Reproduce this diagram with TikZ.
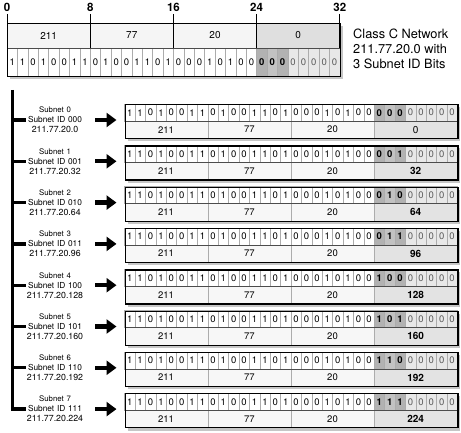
\documentclass[tikz,border=0pt]{standalone}
\usepackage{fontspec}
\setmainfont{TeX Gyre Heros}
\usetikzlibrary{arrows.meta, positioning}

\begin{document}
\begin{tikzpicture}[
    x=1pt, y=-1pt,
    cell/.style={draw=gray!65, line width=0.4pt},
    frame/.style={draw=black, line width=1.3pt, inner sep=0pt, anchor=north west},
    split/.style={draw=black!70, line width=0.6pt},
    shadow/.style={fill=gray!45},
    digit/.style={inner sep=0pt, font=\fontsize{9.5}{9.5}\selectfont},
    lbl/.style={align=center, text width=58pt, inner sep=0pt, font=\fontsize{8.3}{10}\selectfont},
    pointer/.style={draw=black, line width=4.2pt, line cap=butt, -{Triangle[length=10pt, width=14pt]}},
    branch/.style={line width=3.3pt},
    tick/.style={line width=1pt}
]
\useasboundingbox (0,0) rectangle (461,433);

% class C network on top
\fill[shadow] (10,26) rectangle (342.8,79.5);
\foreach \n/\v in {0/211,1/77,2/20} {
    \fill[gray!8] (7+83.2*\n,23) rectangle (90.2+83.2*\n,48);
    \node[digit, font=\fontsize{10}{10}\selectfont] (hdr\n) at (48.6+83.2*\n,35.5) {\v};
}
\fill[gray!25] (256.6,23) rectangle (339.8,48);
\node[digit, font=\fontsize{10}{10}\selectfont] (hdr3) at (298.2,35.5) {0};
\foreach \b [count=\i from 0] in {1,1,0,1,0,0,1,1,0,1,0,0,1,1,0,1,0,0,0,1,0,1,0,0} {
    \draw[cell, fill=white] (7+10.4*\i,48) rectangle ++(10.4,28);
    \node[digit] (top\i) at (12.2+10.4*\i,62) {\b};
}
\foreach \i in {24,25,26} {
    \pgfmathtruncatemacro\odd{mod(\i,2)}
    \ifnum\odd=1 \def\shade{gray!48}\else\def\shade{gray!60}\fi
    \draw[cell, fill=\shade] (7+10.4*\i,48) rectangle ++(10.4,28);
    \node[digit, font=\bfseries\fontsize{9.5}{9.5}\selectfont] (top\i) at (12.2+10.4*\i,62) {0};
}
\foreach \i in {27,...,31} {
    \draw[cell, fill=gray!18] (7+10.4*\i,48) rectangle ++(10.4,28);
    \node[digit, text=gray!70!black] (top\i) at (12.2+10.4*\i,62) {0};
}
\draw[split] (7,48) -- (339.8,48);
\node[frame, minimum width=332.8pt, minimum height=53pt] (topbox) at (7,23) {};
\coordinate (hdrbot) at (0,48);
\foreach \n/\t in {0/0,1/8,2/16,3/24,4/32} {
    \node[inner sep=0pt, font=\bfseries\fontsize{11.5}{11.5}\selectfont] (tick\n) at (7+83.2*\n,7.5) {\t};
    \draw[tick, shorten <=2pt] (tick\n.south) -- (tick\n.south |- hdrbot);
}
\node[anchor=west, align=left, inner sep=0pt, font=\fontsize{12.8}{15}\selectfont] (title) at (353,48.5)
    {Class C Network\\211.77.20.0 with\\3 Subnet ID Bits};

% subnets
\coordinate (bartop) at (12.5,90);
\foreach \k/\sa/\sb/\sc/\val in {0/0/0/0/0, 1/0/0/1/32, 2/0/1/0/64, 3/0/1/1/96,
                                 4/1/0/0/128, 5/1/0/1/160, 6/1/1/0/192, 7/1/1/1/224} {
    \pgfmathsetmacro\T{104+41.3*\k}
    \fill[shadow] (127.5,\T+3) rectangle (460.3,\T+37.5);
    \fill[gray!6] (124.5,\T+17) rectangle (374.1,\T+34);
    \fill[gray!22] (374.1,\T+17) rectangle (457.3,\T+34);
    \foreach \b [count=\i from 0] in {1,1,0,1,0,0,1,1,0,1,0,0,1,1,0,1,0,0,0,1,0,1,0,0} {
        \draw[cell, fill=white] (124.5+10.4*\i,\T) rectangle ++(10.4,17);
        \node[digit] (b\k-\i) at (129.7+10.4*\i,\T+8.7) {\b};
    }
    \foreach \b [count=\i from 24] in {\sa,\sb,\sc} {
        \pgfmathtruncatemacro\odd{mod(\i,2)}
        \ifnum\odd=1 \def\shade{gray!48}\else\def\shade{gray!60}\fi
        \draw[cell, fill=\shade] (124.5+10.4*\i,\T) rectangle ++(10.4,17);
        \node[digit, font=\bfseries\fontsize{9.5}{9.5}\selectfont] (b\k-\i) at (129.7+10.4*\i,\T+8.7) {\b};
    }
    \foreach \i in {27,...,31} {
        \draw[cell, fill=gray!18] (124.5+10.4*\i,\T) rectangle ++(10.4,17);
        \node[digit, text=gray!70!black] (b\k-\i) at (129.7+10.4*\i,\T+8.7) {0};
    }
    \foreach \n/\v in {0/211,1/77,2/20} {
        \node[digit] (n\k-\n) at (166.1+83.2*\n,\T+25.7) {\v};
    }
    \foreach \n in {1,2,3} {
        \draw[cell] (124.5+83.2*\n,\T+17) -- ++(0,17);
    }
    \ifnum\val=0 \def\numfont{}\else\def\numfont{\bfseries}\fi
    \node[digit, font=\numfont\fontsize{10}{10}\selectfont] (n\k-3) at (415.7,\T+25.7) {\val};
    \draw[split] (124.5,\T+17) -- (457.3,\T+17);
    \node[frame, minimum width=332.8pt, minimum height=34pt] (box\k) at (124.5,\T) {};
    \node[lbl] (lbl\k) at (55,\T+16)
        {{\fontsize{7.8}{10}\selectfont Subnet \k}\\Subnet ID \sa\sb\sc\\{\fontsize{8.8}{10}\selectfont 211.77.20.\val}};
    \draw[pointer, shorten <=11pt, shorten >=8pt] (lbl\k.east) -- (lbl\k.east -| box\k.west);
}
\foreach \k in {0,...,6} {
    \draw[branch] (lbl\k.west -| bartop) -- (lbl\k.west);
}
\draw[branch, line join=miter] (bartop) |- (lbl7.west);

\end{tikzpicture}
\end{document}
